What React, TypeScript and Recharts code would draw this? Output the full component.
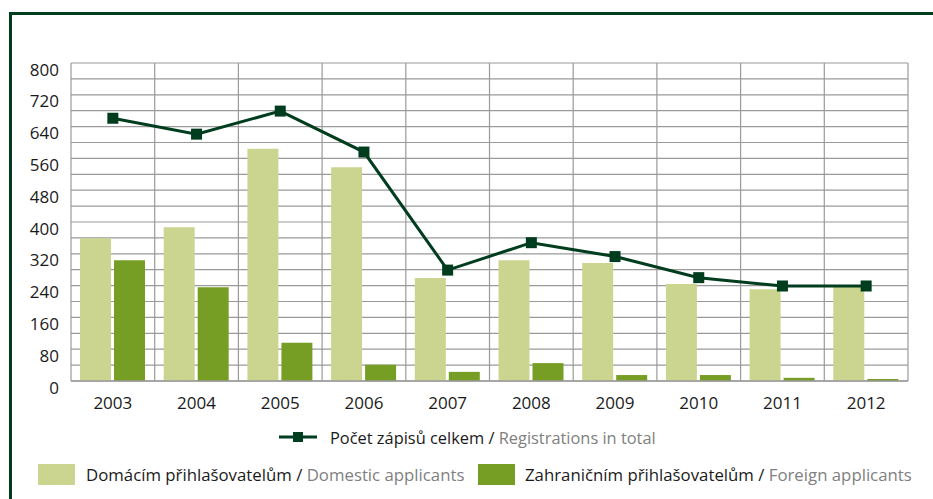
import React from "react";
import {
  ComposedChart,
  Bar,
  Line,
  XAxis,
  YAxis,
  CartesianGrid,
} from "recharts";

const years = ["2003", "2004", "2005", "2006", "2007", "2008", "2009", "2010", "2011", "2012"];
const domestic = [359, 387, 584, 538, 259, 304, 297, 244, 231, 237];
const foreign = [304, 236, 96, 41, 23, 45, 15, 15, 8, 5];
const total = [661, 621, 679, 576, 279, 348, 313, 260, 239, 239];
const yTicks = [0, 40, 80, 120, 160, 200, 240, 280, 320, 360, 400, 440, 480, 520, 560, 600, 640, 680, 720, 760, 800];

const data = years.map((year, i) => ({
  year,
  domestic: domestic[i],
  foreign: foreign[i],
  total: total[i],
}));

const LIGHT = "#cbd590";
const DARK = "#779e24";
const LINE = "#003d1f";
const FONT = "'Open Sans', sans-serif";

const YTick = (props: any) => {
  const { x, y, payload } = props;
  if (payload.value % 80 !== 0) return null;
  return (
    <text x={x} y={y + 6} textAnchor="end" dominantBaseline="central" fontSize={17} fill="#1a1a1a" fontFamily={FONT}>
      {payload.value}
    </text>
  );
};

const SquareDot = (props: any) => {
  const { cx, cy, index } = props;
  return <rect key={index} x={cx - 5.5} y={cy - 5.5} width={11} height={11} fill={LINE} />;
};

export default function App() {
  return (
    <div style={{ position: "absolute", left: 0, top: 0, width: 933, height: 499, overflow: "hidden", background: "#fff", fontFamily: FONT }}>
      <div style={{ position: "absolute", left: 9, top: 12, width: 1000, height: 1000, borderLeft: `3px solid ${LINE}`, borderTop: `3px solid ${LINE}` }} />

      <div style={{ position: "absolute", left: 0, top: 0 }}>
        <ComposedChart
          width={933}
          height={499}
          data={data}
          margin={{ top: 63, right: 25, bottom: 88, left: 0 }}
          barSize={31}
          barGap={3}
        >
          <CartesianGrid
            stroke="#9a9a9a"
            strokeWidth={1.2}
            verticalCoordinatesGenerator={({ offset }: any) =>
              years.map((_, i) => offset.left + (i * offset.width) / years.length).concat(offset.left + offset.width)
            }
          />
          <XAxis
            dataKey="year"
            height={30}
            tickLine={false}
            tickSize={0}
            tickMargin={16}
            axisLine={{ stroke: "#9a9a9a", strokeWidth: 1.5 }}
            tick={{ fontSize: 17, fill: "#1a1a1a", fontFamily: FONT }}
          />
          <YAxis
            width={71}
            domain={[0, 800]}
            ticks={yTicks}
            interval={0}
            tickLine={false}
            axisLine={false}
            tickSize={0}
            tickMargin={12}
            tick={<YTick />}
          />
          <Bar dataKey="domestic" fill={LIGHT} isAnimationActive={false} />
          <Bar dataKey="foreign" fill={DARK} isAnimationActive={false} />
          <Line
            type="linear"
            dataKey="total"
            stroke={LINE}
            strokeWidth={3}
            dot={<SquareDot />}
            activeDot={false}
            isAnimationActive={false}
          />
        </ComposedChart>
      </div>

      {/* legend */}
      <div style={{ position: "absolute", left: 279, top: 426, height: 22, display: "flex", alignItems: "center", fontSize: 16.4, whiteSpace: "nowrap" }}>
        <svg width={38} height={14} style={{ marginRight: 13 }}>
          <line x1={0} y1={7} x2={38} y2={7} stroke={LINE} strokeWidth={3} />
          <rect x={14} y={2} width={10} height={10} fill={LINE} />
        </svg>
        <span style={{ color: "#1a1a1a" }}>Počet zápisů celkem /&nbsp;</span>
        <span style={{ color: "#808080" }}>Registrations in total</span>
      </div>

      <div style={{ position: "absolute", left: 38, top: 463, height: 22, display: "flex", alignItems: "center", fontSize: 16.8, whiteSpace: "nowrap" }}>
        <div style={{ width: 37, height: 21, background: LIGHT, marginRight: 11 }} />
        <span style={{ color: "#1a1a1a" }}>Domácím přihlašovatelům /&nbsp;</span>
        <span style={{ color: "#808080" }}>Domestic applicants</span>
      </div>

      <div style={{ position: "absolute", left: 478, top: 463, height: 22, display: "flex", alignItems: "center", fontSize: 16.8, whiteSpace: "nowrap" }}>
        <div style={{ width: 37, height: 21, background: DARK, marginRight: 10 }} />
        <span style={{ color: "#1a1a1a" }}>Zahraničním přihlašovatelům /&nbsp;</span>
        <span style={{ color: "#808080" }}>Foreign applicants</span>
      </div>
    </div>
  );
}
